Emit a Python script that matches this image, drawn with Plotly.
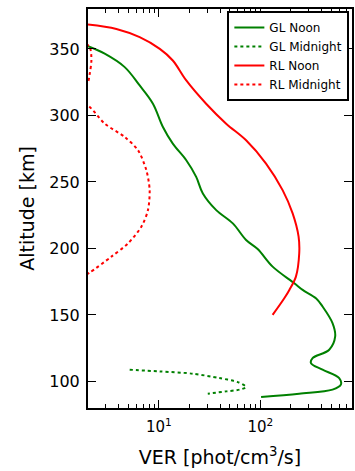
import plotly.graph_objects as go

# GL Noon
gl_noon_ver = [2.0, 2.92, 4.6, 6.46, 8.73, 10.95, 13.7, 18.6, 23.3, 27.1, 36.7, 53.5, 72.3, 94, 132, 216, 261, 353, 410, 514, 546, 477, 327, 315, 410, 598, 621, 514, 241, 101.6]
gl_noon_alt = [352, 346.4, 336.3, 322.5, 308.8, 291.3, 278.8, 266.3, 253.8, 241.3, 228.8, 218.8, 206.3, 199.5, 186.3, 173.8, 168.8, 162.5, 156.3, 143.8, 133.8, 123.8, 117.5, 113.8, 108.8, 102.5, 97.5, 93.8, 90.8, 88.3]

# GL Midnight
gl_mid_ver = [5.15, 10.2, 21.6, 39.5, 59.8, 72.3, 62.2, 46, 30.3]
gl_mid_alt = [108.8, 107.5, 105.8, 102.5, 99.5, 95.8, 93.8, 92.5, 90.8]

# RL Noon
rl_noon_ver = [2.0, 3.81, 6.46, 10.2, 13.7, 18.6, 29.2, 46, 72.3, 113.7, 165.6, 208, 238, 241.5, 224, 193, 172, 132]
rl_noon_alt = [368.3, 365, 358.8, 350, 341.3, 326.3, 308.8, 293.8, 281.3, 263.8, 243.8, 226.3, 208.8, 196.3, 178.8, 168.8, 162.5, 150]

# RL Midnight
rl_mid_ver = [1.7, 2.08, 2.16, 2.08, 2.0, 1.7, 1.5, 1.7, 2.04, 2.92, 4.6, 6.22, 7.52, 8.1, 7.8, 6.71, 4.96, 3.4, 2.08, 1.8]
rl_mid_alt = [356, 351.3, 341.3, 331.3, 325, 318, 312, 309, 306.8, 293.8, 283.8, 273.8, 258.8, 243.8, 228.8, 216.3, 203.8, 193.8, 181.8, 179]

x_tick_vals = [10, 100]
x_tick_text = ["10<sup>1</sup>", "10<sup>2</sup>"]
x_minor_vals = [2, 3, 4, 5, 6, 7, 8, 9, 20, 30, 40, 50, 60, 70, 80, 90, 200, 300, 400, 500, 600, 700, 800]
y_tick_vals = [100, 150, 200, 250, 300, 350]

fig = go.Figure()
fig.add_trace(go.Scatter(x=gl_noon_ver, y=gl_noon_alt, mode="lines", name="GL Noon",
                         line=dict(color="#008000", width=2, shape="spline", smoothing=1.0)))
fig.add_trace(go.Scatter(x=gl_mid_ver, y=gl_mid_alt, mode="lines", name="GL Midnight",
                         line=dict(color="#008000", width=2, dash="dot", shape="spline", smoothing=0.8)))
fig.add_trace(go.Scatter(x=rl_noon_ver, y=rl_noon_alt, mode="lines", name="RL Noon",
                         line=dict(color="#ff0000", width=2, shape="spline", smoothing=1.0)))
fig.add_trace(go.Scatter(x=rl_mid_ver, y=rl_mid_alt, mode="lines", name="RL Midnight",
                         line=dict(color="#ff0000", width=2, dash="dot", shape="spline", smoothing=0.8)))

font_family = "DejaVu Sans"
fig.update_layout(
    width=355, height=471,
    margin=dict(l=88, r=1, t=9, b=63),
    paper_bgcolor="white", plot_bgcolor="white",
    font=dict(family=font_family, color="black"),
    showlegend=True,
    legend=dict(x=0.99, y=0.995, xanchor="right", yanchor="top",
                bgcolor="white", bordercolor="black", borderwidth=2,
                font=dict(size=12, family=font_family), tracegroupgap=0,
                itemwidth=30),
)
fig.update_xaxes(
    type="log", range=[0.301, 2.903],
    tickmode="array", tickvals=x_tick_vals, ticktext=x_tick_text,
    ticks="inside", ticklen=8, tickwidth=1, tickcolor="black",
    minor=dict(tickmode="array", tickvals=x_minor_vals, ticks="inside", ticklen=4, tickcolor="black", showgrid=False),
    showline=True, linecolor="black", linewidth=2, mirror="ticks",
    showgrid=False, zeroline=False,
    tickfont=dict(size=15), ticklabelstandoff=4,
    title=dict(text="VER [phot/cm<sup>3</sup>/s]", font=dict(size=19), standoff=16),
)
fig.update_yaxes(
    range=[80, 380],
    tickmode="array", tickvals=y_tick_vals,
    ticks="inside", ticklen=8, tickwidth=1, tickcolor="black",
    showline=True, linecolor="black", linewidth=2, mirror="ticks",
    showgrid=False, zeroline=False,
    tickfont=dict(size=16), ticklabelstandoff=3,
    title=dict(text="Altitude [km]", font=dict(size=19), standoff=10),
)

fig.write_html("out.html", config={"displayModeBar": False},
               post_script="document.body.style.margin='0';document.body.style.overflow='hidden';")
